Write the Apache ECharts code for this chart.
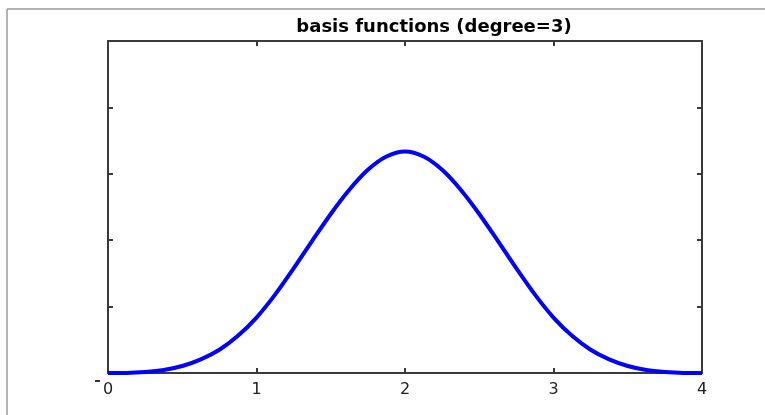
<!DOCTYPE html>
<html>
<head>
<meta charset="utf-8">
<script src="https://cdn.jsdelivr.net/npm/echarts@6/dist/echarts.min.js"></script>
<style>
  html, body { margin: 0; padding: 0; background: #fff; }
  #chart { width: 765px; height: 415px; }
</style>
</head>
<body>
<div id="chart"></div>
<script>
// Cubic B-spline basis function sampled on [0, 4]
const xValues = [0, 0.125, 0.25, 0.375, 0.5, 0.625, 0.75, 0.875, 1, 1.125, 1.25, 1.375, 1.5, 1.625, 1.75, 1.875, 2,
                 2.125, 2.25, 2.375, 2.5, 2.625, 2.75, 2.875, 3, 3.125, 3.25, 3.375, 3.5, 3.625, 3.75, 3.875, 4];
const basisValues = [0, 0.0003, 0.003, 0.009, 0.021, 0.041, 0.070, 0.112, 0.167, 0.236, 0.315, 0.398, 0.479, 0.552, 0.612, 0.652, 0.667,
                     0.652, 0.612, 0.552, 0.479, 0.398, 0.315, 0.236, 0.167, 0.112, 0.070, 0.041, 0.021, 0.009, 0.003, 0.0003, 0];
const xTicks = [0, 1, 2, 3, 4];
const titleText = 'basis functions (degree=3)';

const chart = echarts.init(document.getElementById('chart'), null, { renderer: 'canvas' });

const boxLine = { show: true, onZero: false, lineStyle: { color: '#3a3a3a', width: 2 } };
const innerTick = { show: true, inside: true, length: 5, lineStyle: { color: '#3a3a3a', width: 2 } };

chart.setOption({
  backgroundColor: '#ffffff',
  animation: false,
  title: {
    text: titleText,
    left: 429,
    top: 13,
    textAlign: 'center',
    textStyle: { fontFamily: 'DejaVu Sans', fontWeight: 'bold', fontSize: 18, color: '#000' }
  },
  grid: { left: 108, top: 41, right: 63, bottom: 42, containLabel: false },
  xAxis: [
    {
      type: 'value', min: 0, max: 4, interval: 1, position: 'bottom',
      axisLine: boxLine, axisTick: innerTick, splitLine: { show: false },
      axisLabel: {
        margin: 9, color: '#222', fontFamily: 'DejaVu Sans', fontSize: 16,
        formatter: v => (xTicks.indexOf(v) >= 0 ? String(v) : '')
      }
    },
    {
      type: 'value', min: 0, max: 4, interval: 1, position: 'top',
      axisLine: boxLine, axisTick: innerTick, splitLine: { show: false },
      axisLabel: { show: false }
    }
  ],
  yAxis: [
    {
      type: 'value', min: 0, max: 1, interval: 0.2, position: 'left',
      axisLine: boxLine, axisTick: innerTick, splitLine: { show: false },
      axisLabel: { show: false }
    },
    {
      type: 'value', min: 0, max: 1, interval: 0.2, position: 'right',
      axisLine: boxLine, axisTick: innerTick, splitLine: { show: false },
      axisLabel: { show: false }
    }
  ],
  graphic: [
    // thin frame around the figure
    { type: 'line', shape: { x1: 7, y1: 9, x2: 765, y2: 9 }, style: { stroke: '#9a9a9a', lineWidth: 1.5 } },
    { type: 'line', shape: { x1: 7, y1: 9, x2: 7, y2: 415 }, style: { stroke: '#9a9a9a', lineWidth: 1.5 } },
    // leftover mark beside the origin label
    { type: 'rect', shape: { x: 95, y: 380, width: 5, height: 2 }, style: { fill: '#333' } }
  ],
  series: [{
    type: 'line',
    xAxisIndex: 0,
    yAxisIndex: 0,
    data: xValues.map((x, i) => [x, basisValues[i]]),
    smooth: 0.3,
    showSymbol: false,
    clip: true,
    lineStyle: { color: '#0000ff', width: 4 }
  }]
});
</script>
</body>
</html>
